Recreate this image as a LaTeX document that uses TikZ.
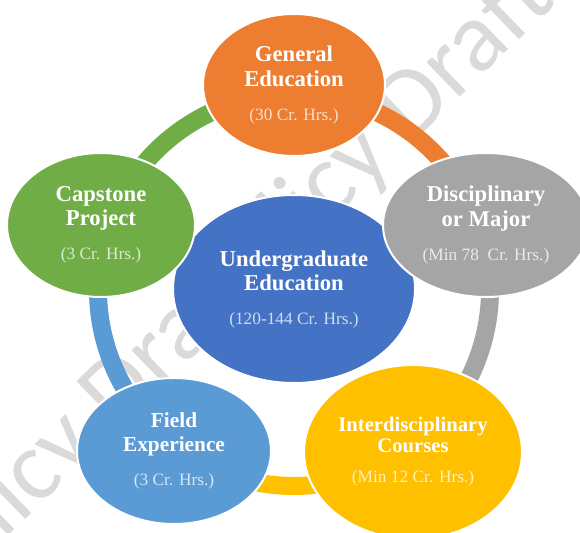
\documentclass[tikz,border=0pt]{standalone}
\usepackage{fontspec}
\setmainfont{Liberation Serif}
\newfontfamily\wmfont{Carlito}
\usepackage{xcolor}
\usepackage{tikz}
\usetikzlibrary{shapes.geometric}

\definecolor{geCol}{HTML}{ED7D31}
\definecolor{dmCol}{HTML}{A5A5A5}
\definecolor{icCol}{HTML}{FFC000}
\definecolor{feCol}{HTML}{5B9BD5}
\definecolor{cpCol}{HTML}{70AD47}
\definecolor{ueCol}{HTML}{4472C4}
\definecolor{wmCol}{HTML}{DADADA}

\newcommand{\hrs}[2]{\\[7pt]{\mdseries\fontsize{13}{18.5}\selectfont\color{white!75!#1}#2}}

\begin{document}
\begin{tikzpicture}[x=0.75pt, y=0.75pt,
  cyc/.style={ellipse, draw=white, line width=1.5pt, inner sep=0pt, text=white, align=center, font=\bfseries\fontsize{17}{18.5}\selectfont},
  ring/.style={line width=13.5pt},
  wm/.style={text=wmCol, font=\wmfont\fontsize{75}{75}\selectfont, anchor=base west, rotate=44, inner sep=0pt}]
\useasboundingbox (0,0) rectangle (580,532);
\clip (0,0) rectangle (580,532);
% watermark
\node [wm] (WM1) at (225,208) {Policy Draft};
\node [wm] (WM2) at (-70,-80) {Policy Draft};
% ring
\coordinate (hub) at (294,242);
\draw [ring, draw=geCol] (hub) ++(90:196) arc [start angle=90, end angle=18.7, radius=196];
\draw [ring, draw=dmCol] (hub) ++(18.7:196) arc [start angle=18.7, end angle=-53.7, radius=196];
\draw [ring, draw=icCol] (hub) ++(-53.7:196) arc [start angle=-53.7, end angle=-126.7, radius=196];
\draw [ring, draw=feCol] (hub) ++(-126.7:196) arc [start angle=-126.7, end angle=-198.6, radius=196];
\draw [ring, draw=cpCol] (hub) ++(161.4:196) arc [start angle=161.4, end angle=90, radius=196];
% circles
\node [cyc, fill=ueCol, minimum width=181.5pt, minimum height=141pt] (UE) at (294,243) {\\[-6pt]Undergraduate\\Education\hrs{ueCol}{(120-144 Cr. Hrs.)}};
\node [cyc, fill=geCol, minimum width=136.5pt, minimum height=106.5pt] (GE) at (294,447) {General\\Education\hrs{geCol}{(30 Cr. Hrs.)}};
\node [cyc, fill=dmCol, minimum width=154.5pt, minimum height=108pt] (DM) at (486,307) {Disciplinary\\or Major\hrs{dmCol}{(Min 78~ Cr. Hrs.)}};
\node [cyc, fill=icCol, minimum width=163.5pt, minimum height=130.5pt, font=\bfseries\fontsize{15.5}{15.5}\selectfont] (IC) at (413,80) {Interdisciplinary\\Courses\hrs{icCol}{(Min 12 Cr. Hrs.)}};
\node [cyc, fill=feCol, minimum width=145.5pt, minimum height=109.5pt, font=\bfseries\fontsize{16}{18}\selectfont] (FE) at (174,81) {Field\\Experience\hrs{feCol}{(3 Cr. Hrs.)}};
\node [cyc, fill=cpCol, minimum width=141pt, minimum height=108pt] (CP) at (101,307) {Capstone\\Project\hrs{cpCol}{(3 Cr. Hrs.)}};
\end{tikzpicture}
\end{document}
